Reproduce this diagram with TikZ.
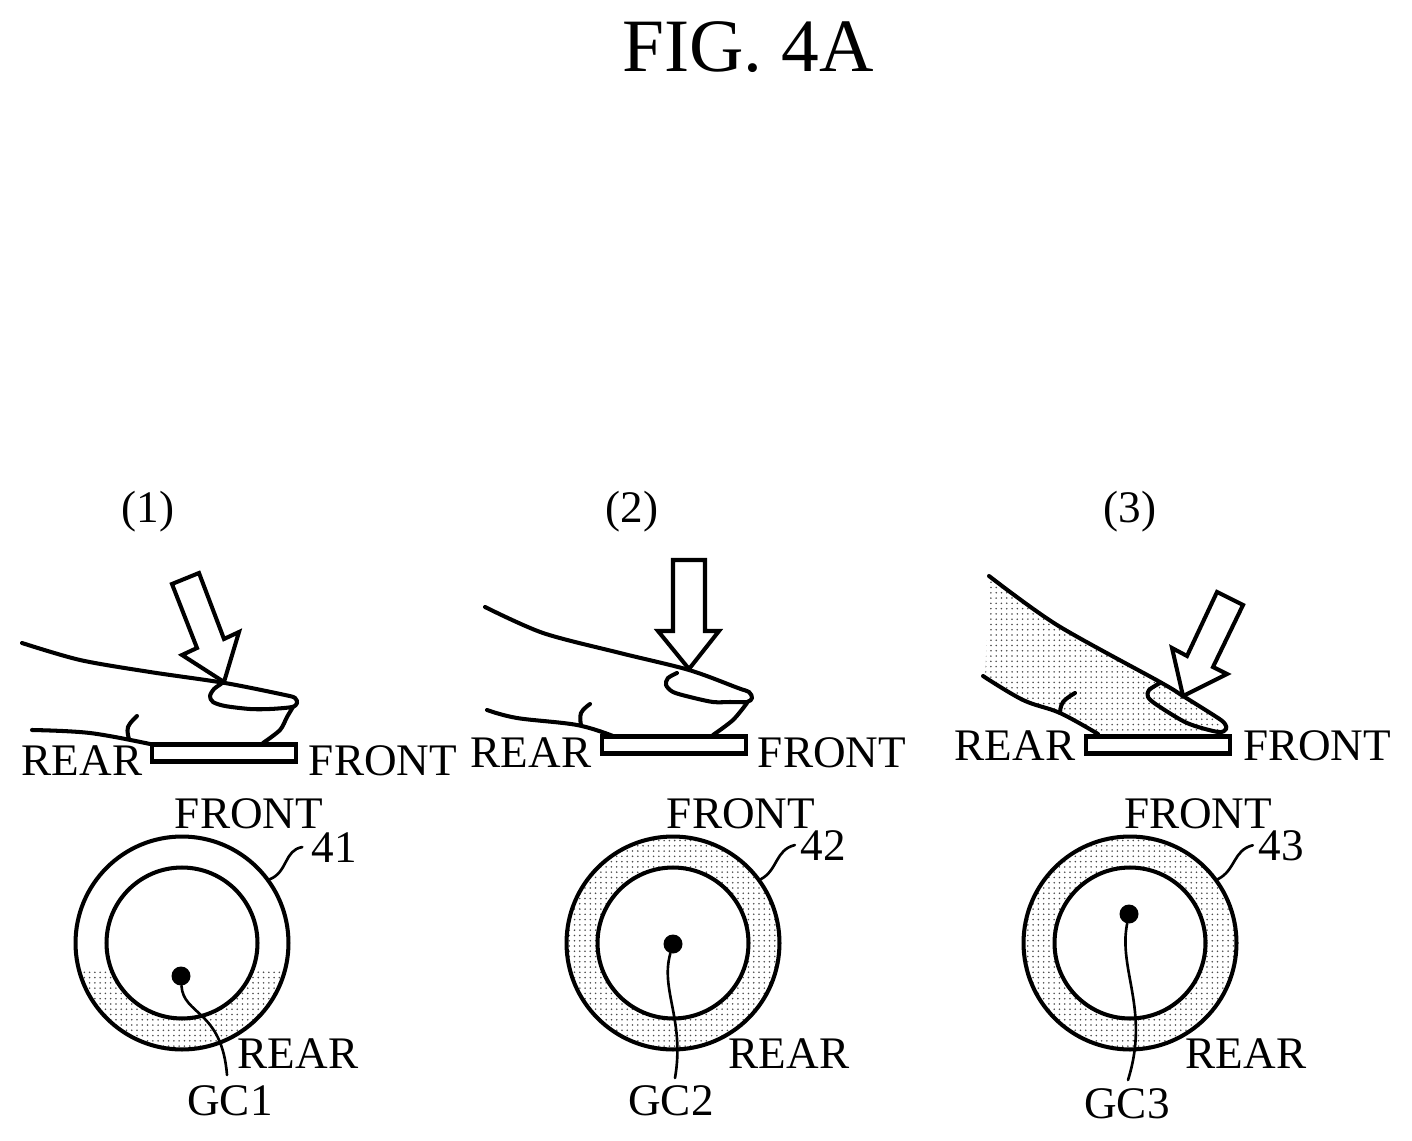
\documentclass[tikz,border=0pt]{standalone}
\usepackage{fontspec}
\setmainfont{Liberation Serif}
\usepackage{tikz}
\usetikzlibrary{patterns}
\tikzset{
    heavy/.style={line width=2.3pt,line join=round,line cap=round},
    leader/.style={line width=1.5pt,line cap=round},
    pointer/.style={heavy,line join=miter,fill=white},
    lbl/.style={anchor=base,inner sep=0pt,font=\fontsize{25.7}{30}\selectfont},
    plate/.style={rectangle,draw,line width=2.3pt,fill=white,minimum width=2.88cm,minimum height=0.34cm,inner sep=0pt},
    ring/.style={circle,draw,line width=2.3pt,minimum size=4.26cm,inner sep=0pt},
    core/.style={circle,draw,line width=2.3pt,fill=white,minimum size=3.02cm,inner sep=0pt},
    gcdot/.style={circle,fill=black,minimum size=0.38cm,inner sep=0pt},
    skin/.style={pattern=dots,pattern color=black!70}
}
\begin{document}
\begin{tikzpicture}[x=0.02cm,y=-0.02cm]
    \useasboundingbox (0,0) rectangle (1412,1141);

    % title and panel tags
    \node[lbl,font=\fontsize{42.9}{50}\selectfont] (title) at (748,72) {FIG. 4A};
    \node[lbl] (tag1) at (148,522) {(1)};
    \node[lbl] (tag2) at (632,522) {(2)};
    \node[lbl] (tag3) at (1130,522) {(3)};

    % finger 1
    \draw[heavy] plot[smooth,tension=0.5] coordinates {(22,643) (80,660) (150,672) (225,683) (285,695) (295,698) (297,703) (292,707) (270,709) (250,709) (225,706) (213,702) (210,696) (214,689) (221,684)};
    \draw[heavy] plot[smooth,tension=0.5] coordinates {(293,707) (287,717) (280,730) (263,743)};
    \draw[heavy] plot[smooth,tension=0.6] coordinates {(32,730) (90,733) (150,744)};
    \draw[heavy] plot[smooth,tension=0.7] coordinates {(137,716) (128,727) (129,739)};
    \draw[pointer] (172,584) -- (199,573) -- (224,639) -- (239,632) -- (224,682) -- (182,655) -- (197,648) -- cycle;
    \node[plate] (plate1) at (224,753) {};
    \node[lbl] (rear1) at (82,775) {REAR};
    \node[lbl] (front1) at (383,775) {FRONT};

    % finger 2
    \draw[heavy] plot[smooth,tension=0.5] coordinates {(485,607) (543,633) (620,653) (689,670) (738,688) (749,692) (752,698) (747,702) (730,702) (713,702) (690,697) (673,692) (666,685) (668,678) (677,673)};
    \draw[heavy] plot[smooth,tension=0.5] coordinates {(747,703) (733,720) (713,735)};
    \draw[heavy] plot[smooth,tension=0.6] coordinates {(487,710) (517,718) (577,725) (613,736)};
    \draw[heavy] plot[smooth,tension=0.7] coordinates {(590,704) (581,713) (581,725)};
    \draw[pointer] (673,560) -- (705,560) -- (705,631) -- (719,631) -- (689,669) -- (658,631) -- (673,631) -- cycle;
    \node[plate] (plate2) at (674,745) {};
    \node[lbl] (rear2) at (531,767) {REAR};
    \node[lbl] (front2) at (832,767) {FRONT};

    % finger 3
    \fill[skin] (989,590) -- plot[smooth,tension=0.6] coordinates {(989,576) (1057,625) (1160,682) (1183,696) (1220,722)} -- (1220,737) -- (1098,737) -- plot[smooth,tension=0.6] coordinates {(1098,734) (1060,713) (1023,700) (985,678)} -- cycle;
    \draw[heavy] plot[smooth,tension=0.5] coordinates {(989,576) (1057,625) (1160,682) (1183,696) (1218,718) (1225,724) (1226,729) (1218,732) (1187,723) (1157,705) (1148,697) (1149,690) (1160,683)};
    \draw[heavy] plot[smooth,tension=0.6] coordinates {(983,676) (1023,700) (1060,713) (1098,734)};
    \draw[heavy] plot[smooth,tension=0.7] coordinates {(1075,693) (1063,702) (1060,713)};
    \draw[pointer] (1217,592) -- (1243,605) -- (1213,667) -- (1227,674) -- (1183,696) -- (1172,648) -- (1187,656) -- cycle;
    \node[plate] (plate3) at (1158,745) {};
    \node[lbl] (rear3) at (1015,760) {REAR};
    \node[lbl] (front3) at (1317,760) {FRONT};

    % rings
    \begin{scope}
        \clip (60,970) rectangle (300,1060);
        \fill[skin] (182,943) circle (106.5);
    \end{scope}
    \node[ring] (ring1) at (182,943) {};
    \node[core] (core1) at (182,943) {};
    \node[ring,skin] (ring2) at (673,943) {};
    \node[core] (core2) at (673,943) {};
    \node[ring,skin] (ring3) at (1130,943) {};
    \node[core] (core3) at (1130,943) {};

    % ring labels
    \node[lbl] (top1) at (249,828) {FRONT};
    \node[lbl] (top2) at (741,828) {FRONT};
    \node[lbl] (top3) at (1198,828) {FRONT};
    \node[lbl] (low1) at (298,1068) {REAR};
    \node[lbl] (low2) at (789,1068) {REAR};
    \node[lbl] (low3) at (1246,1068) {REAR};
    \node[lbl] (num1) at (334,862) {41};
    \node[lbl] (num2) at (823,860) {42};
    \node[lbl] (num3) at (1281,860) {43};
    \draw[leader] (ring1.36) .. controls (288,872) and (284,850) .. ([xshift=-5]num1.west);
    \draw[leader] (ring2.36) .. controls (778,870) and (775,850) .. ([xshift=-3]num2.west);
    \draw[leader] (ring3.36) .. controls (1236,870) and (1233,850) .. ([xshift=-3]num3.west);

    % centres
    \node[gcdot] (dot1) at (181,976) {};
    \node[gcdot] (dot2) at (673,944) {};
    \node[gcdot] (dot3) at (1129,914) {};
    \node[lbl] (gc1) at (230,1115) {GC1};
    \node[lbl] (gc2) at (671,1115) {GC2};
    \node[lbl] (gc3) at (1127,1118) {GC3};
    \coordinate (end1) at (227,1075);
    \coordinate (end2) at (675,1078);
    \coordinate (end3) at (1128,1080);
    \draw[leader] (dot1) .. controls (183,1015) and (222,1010) .. (end1);
    \draw[leader] (dot2) .. controls (660,990) and (685,1020) .. (end2);
    \draw[leader] (dot3) .. controls (1118,970) and (1150,1010) .. (end3);
\end{tikzpicture}
\end{document}
